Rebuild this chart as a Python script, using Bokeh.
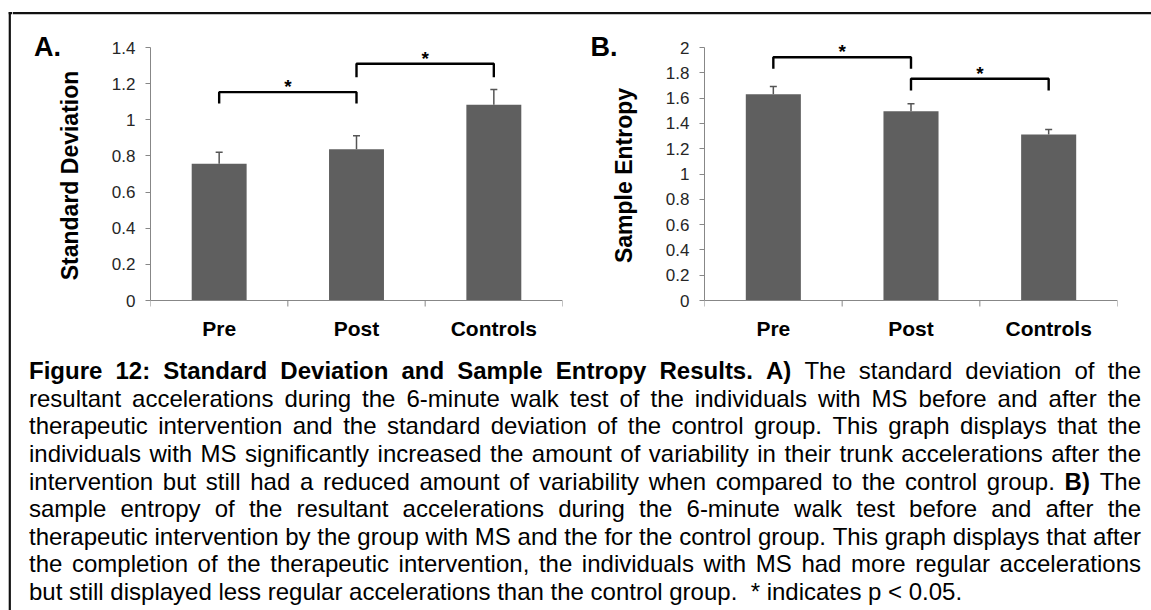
import math
from bokeh.plotting import figure
from bokeh.models import (Range1d, FixedTicker, ColumnDataSource, Whisker, TeeHead)
from bokeh.layouts import column, row
from bokeh.embed import file_html
from bokeh.resources import INLINE
from bokeh.core.properties import value

# ---------------- data ----------------
categories = ["Pre", "Post", "Controls"]

sd_means = [0.757, 0.837, 1.083]
sd_errors = [0.064, 0.074, 0.085]

se_means = [1.631, 1.496, 1.312]
se_errors = [0.061, 0.059, 0.040]

sd_ticks = [0, 0.2, 0.4, 0.6, 0.8, 1, 1.2, 1.4]
sd_tick_labels = ["0", "0.2", "0.4", "0.6", "0.8", "1", "1.2", "1.4"]
se_ticks = [0, 0.2, 0.4, 0.6, 0.8, 1, 1.2, 1.4, 1.6, 1.8, 2]
se_tick_labels = ["0", "0.2", "0.4", "0.6", "0.8", "1", "1.2", "1.4", "1.6", "1.8", "2"]

sd_ylabel = "Standard Deviation"
se_ylabel = "Sample Entropy"
panel_tags = ["A.", "B."]

# significance brackets: (left group, right group, bracket level, leg end)
sd_brackets = [("Pre", "Post", 1.153, 1.090), ("Post", "Controls", 1.310, 1.236)]
se_brackets = [("Pre", "Post", 1.923, 1.832), ("Post", "Controls", 1.753, 1.660)]
sig_mark = "*"

caption_lines = [
    [("Figure 12: Standard Deviation and Sample Entropy Results. A)", True),
     ("The standard deviation of the", False)],
    [("resultant accelerations during the 6-minute walk test of the individuals with MS before and after the", False)],
    [("therapeutic intervention and the standard deviation of the control group. This graph displays that the", False)],
    [("individuals with MS significantly increased the amount of variability in their trunk accelerations after the", False)],
    [("intervention but still had a reduced amount of variability when compared to the control group.", False),
     ("B)", True), ("The", False)],
    [("sample entropy of the resultant accelerations during the 6-minute walk test before and after the", False)],
    [("therapeutic intervention by the group with MS and the for the control group. This graph displays that after", False)],
    [("the completion of the therapeutic intervention, the individuals with MS had more regular accelerations", False)],
    [("but still displayed less regular accelerations than the control group.  * indicates p < 0.05.", False)],
]

# ---------------- style / geometry ----------------
FONT = "Liberation Sans"
BAR_C = "#5f5f5f"
ERR_C = "#555555"
AXIS_C = "#878787"
TICK_C = "#262626"
BORDER_C = "#111111"

W, H = 1151, 610
EDGE_W = 12
INNER_W = W - EDGE_W
TOP_STRIP_H = 30
ROW_H = 310
CAP_H = H - TOP_STRIP_H - ROW_H
FRAME_PX_TOP = 17      # pixels from row top to the top tick
FRAME_PX_H = 253       # pixels between the top tick and the zero line
TICK_DOWN = 6          # category boundary tick length (px)
CAT_LABEL_DROP = 28    # category label centre below the zero line (px)
STAR_RAISE = 5.5       # asterisk text centre above its bracket (px)


def pixfig(w, h):
    f = figure(width=w, height=h, x_range=Range1d(0, w), y_range=Range1d(h, 0),
               toolbar_location=None, output_backend="svg", min_border=0,
               x_axis_location=None, y_axis_location=None)
    f.outline_line_color = None
    f.grid.visible = False
    return f


def border_quads(f, lefts, rights, tops, bottoms):
    f.quad(left=lefts, right=rights, top=tops, bottom=bottoms,
           fill_color=BORDER_C, line_color=None)


def make_panel(width, frame_left, frame_w, top_tick, ticks, tick_labels, means, errors,
               brackets):
    n = len(categories)
    ppu = FRAME_PX_H / top_tick
    y_end = (FRAME_PX_TOP + FRAME_PX_H) / ppu
    y_start = -(ROW_H - FRAME_PX_TOP - FRAME_PX_H) / ppu
    p = figure(width=width, height=ROW_H, x_range=Range1d(0, n),
               y_range=Range1d(y_start, y_end),
               toolbar_location=None, output_backend="svg", x_axis_location=None,
               min_border_left=frame_left, min_border_right=width - frame_left - frame_w,
               min_border_top=0, min_border_bottom=0)
    p.outline_line_color = None
    p.grid.visible = False

    centers = [i + 0.5 for i in range(n)]
    pos = dict(zip(categories, centers))
    src = ColumnDataSource(dict(x=centers, top=means,
                                upper=[m + e for m, e in zip(means, errors)]))
    p.vbar(x="x", top="top", bottom=0, width=0.4, source=src, fill_color=BAR_C,
           line_color=None)
    p.add_layout(Whisker(source=src, base="x", lower="top", upper="upper", dimension="height",
                         lower_head=None,
                         upper_head=TeeHead(size=7, line_color=ERR_C, line_width=1.5),
                         line_color=ERR_C, line_width=1.5))

    # category axis (zero line, boundary ticks, category names)
    bounds = list(range(n + 1))
    p.segment(x0=[0], y0=[0], x1=[n], y1=[0], line_color=AXIS_C, line_width=1)
    p.segment(x0=bounds, y0=[0] * len(bounds), x1=bounds,
              y1=[-TICK_DOWN / ppu] * len(bounds), line_color=AXIS_C, line_width=1)
    p.text(x=centers, y=[-CAT_LABEL_DROP / ppu] * n, text=categories,
           text_font=value(FONT), text_font_size="21px", text_font_style="bold",
           text_align="center", text_baseline="middle", text_color="black")

    # significance brackets
    xs = [[pos[a], pos[a], pos[b], pos[b]] for a, b, lvl, leg in brackets]
    ys = [[leg, lvl, lvl, leg] for a, b, lvl, leg in brackets]
    p.multi_line(xs, ys, line_color="black", line_width=2.4)
    p.text(x=[(pos[a] + pos[b]) / 2 for a, b, lvl, leg in brackets],
           y=[lvl + STAR_RAISE / ppu for a, b, lvl, leg in brackets],
           text=[sig_mark] * len(brackets), text_font=value(FONT), text_font_size="19px",
           text_font_style="bold", text_align="center", text_baseline="middle",
           text_color="black")

    ya = p.yaxis[0]
    ya.ticker = FixedTicker(ticks=ticks, minor_ticks=[])
    ya.bounds = (0, top_tick)
    ya.major_label_overrides = dict(zip(ticks, tick_labels))
    ya.major_tick_out = 5
    ya.major_tick_in = 0
    ya.major_tick_line_color = AXIS_C
    ya.axis_line_color = AXIS_C
    ya.major_label_standoff = 10
    ya.major_label_text_font = FONT
    ya.major_label_text_font_size = "17px"
    ya.major_label_text_color = TICK_C
    return p


def make_strip(width, tag_x, label_x, ylabel, tag):
    s = pixfig(width, ROW_H)
    s.text(x=[tag_x], y=[16.6], text=[tag], text_font=value(FONT), text_font_size="27px",
           text_font_style="bold", text_baseline="middle", text_align="left",
           text_color="black")
    s.text(x=[label_x], y=[145], text=[ylabel], angle=math.pi / 2, text_font=value(FONT),
           text_font_size="23px", text_font_style="bold", text_baseline="middle",
           text_align="center", text_color="black")
    return s


# outer frame: left edge column and top strip
edge = pixfig(EDGE_W, H)
border_quads(edge, [8.2, 8.2], [10.4, EDGE_W], [11.6, 11.6], [H, 13.8])
top = pixfig(INNER_W, TOP_STRIP_H)
border_quads(top, [0], [INNER_W], [11.6], [13.8])

stripA = make_strip(92 - EDGE_W, 33.5 - EDGE_W, 69.5 - EDGE_W, sd_ylabel, panel_tags[0])
pA = make_panel(484, 58, 412, 1.4, sd_ticks, sd_tick_labels, sd_means, sd_errors, sd_brackets)
stripB = make_strip(76, 14, 47.5, se_ylabel, panel_tags[1])
pB = make_panel(499, 52, 413, 2, se_ticks, se_tick_labels, se_means, se_errors, se_brackets)

# ---------------- caption ----------------
cap = pixfig(INNER_W, CAP_H)

UP_R = [667, 667, 722, 722, 667, 611, 778, 722, 278, 500, 667, 556, 833, 722, 778, 667, 778,
        722, 667, 611, 722, 667, 944, 667, 667, 611]
LO_R = [556, 556, 500, 556, 556, 278, 556, 556, 222, 222, 500, 222, 833, 556, 556, 556, 556,
        333, 500, 278, 556, 500, 722, 500, 500, 500]
UP_B = [722, 722, 722, 722, 667, 611, 778, 722, 278, 556, 722, 611, 833, 722, 778, 667, 778,
        722, 667, 611, 722, 667, 944, 667, 667, 611]
LO_B = [556, 611, 556, 611, 556, 333, 611, 611, 278, 278, 556, 278, 889, 611, 611, 611, 611,
        389, 556, 333, 611, 556, 778, 556, 556, 500]
PUNCT = {' ': 278, '.': 278, ',': 278, ':': 278, '-': 333, '(': 333, ')': 333, '*': 389,
         '<': 584}
FS = 24


def text_w(s, bold):
    w = 0
    for ch in s:
        if 'A' <= ch <= 'Z':
            w += (UP_B if bold else UP_R)[ord(ch) - 65]
        elif 'a' <= ch <= 'z':
            w += (LO_B if bold else LO_R)[ord(ch) - 97]
        elif ch.isdigit():
            w += 556
        elif ch == ':' and bold:
            w += 333
        else:
            w += PUNCT.get(ch, 556)
    return w * FS / 1000.0


CAP_LEFT, CAP_RIGHT = 28.5 - EDGE_W, 1140.5 - EDGE_W
MID0, LEAD = 30.2, 27.6     # text-box centre of first line, line pitch
reg = dict(x=[], y=[], t=[])
bld = dict(x=[], y=[], t=[])
for li, segs in enumerate(caption_lines):
    yc = MID0 + li * LEAD
    last = li == len(caption_lines) - 1
    if not last:
        words = [(w, b) for s, b in segs for w in s.split()]
        tot = sum(text_w(w, b) for w, b in words)
        gap = (CAP_RIGHT - CAP_LEFT - tot) / (len(words) - 1)
        x = CAP_LEFT
        for w, b in words:
            d = bld if b else reg
            d["x"].append(x); d["y"].append(yc); d["t"].append(w)
            x += text_w(w, b) + gap
    else:
        x = CAP_LEFT
        sp = text_w(" ", False)
        for s, b in segs:
            for w in s.split(" "):
                if w:
                    d = bld if b else reg
                    d["x"].append(x); d["y"].append(yc); d["t"].append(w)
                x += text_w(w, b) + sp

cap.text(x="x", y="y", text="t", source=ColumnDataSource(reg), text_font=value(FONT),
         text_font_size=f"{FS}px", text_baseline="middle", text_align="left",
         text_color="black")
cap.text(x="x", y="y", text="t", source=ColumnDataSource(bld), text_font=value(FONT),
         text_font_size=f"{FS}px", text_font_style="bold", text_baseline="middle",
         text_align="left", text_color="black")

inner = column(top, row(stripA, pA, stripB, pB, spacing=0), cap, spacing=0)
layout = row(edge, inner, spacing=0)
open("out.html", "w").write(file_html(layout, INLINE))
